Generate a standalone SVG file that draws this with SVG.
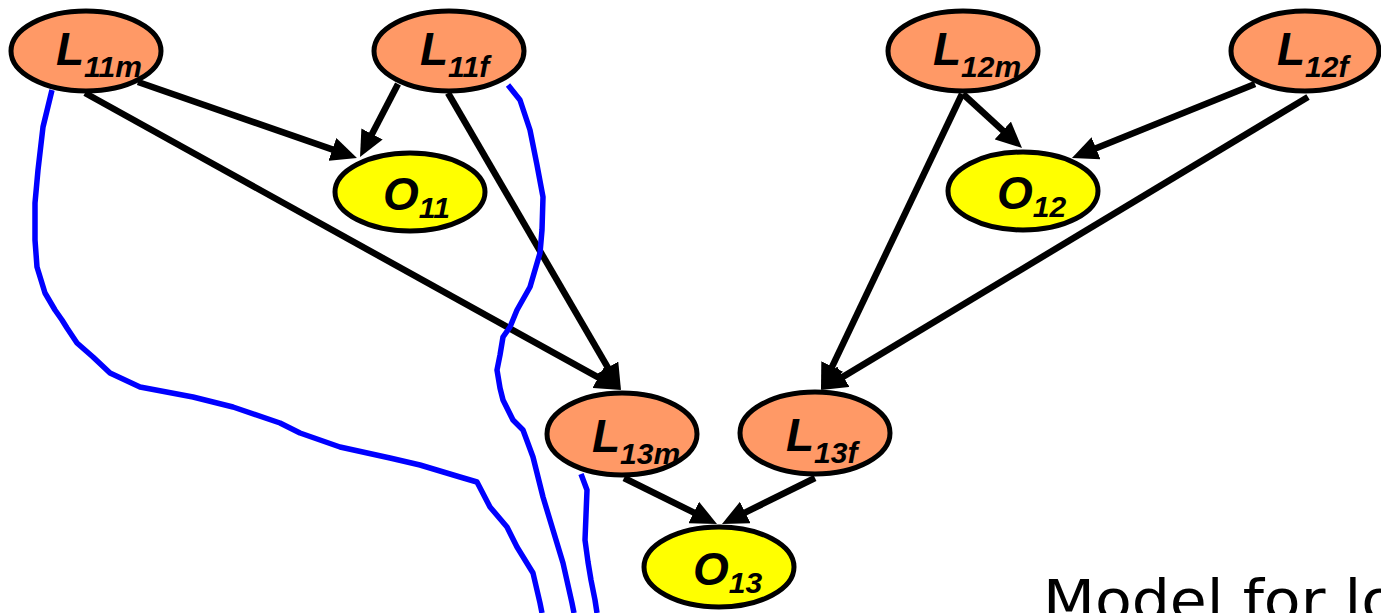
<svg xmlns="http://www.w3.org/2000/svg" width="1381" height="613" viewBox="0 0 1381 613">
  <style>
    .node ellipse { stroke: #000; stroke-width: 5; }
    .latent ellipse { fill: #FF9966; }
    .obs ellipse { fill: #FFFF00; }
    .lbl { font-family: "Liberation Sans", "DejaVu Sans", sans-serif; font-weight: bold; font-style: italic; font-size: 46px; fill: #000; }
    .sub { font-size: 30px; }
    .edge { stroke: #000; stroke-width: 6.5; fill: none; marker-end: url(#arrow); }
    .ink { stroke: #0000FF; stroke-width: 5.5; fill: none; stroke-linejoin: round; stroke-linecap: butt; }
    .caption { font-family: "DejaVu Sans", "Liberation Sans", sans-serif; font-size: 56px; fill: #000; }
  </style>
  <defs>
    <marker id="arrow" viewBox="0 0 26 24" refX="2" refY="12" markerWidth="26" markerHeight="24" markerUnits="userSpaceOnUse" orient="auto">
      <path d="M0,0 L26,12 L0,24 z" fill="#000"/>
    </marker>
  </defs>

  <rect width="1381" height="613" fill="#fff"/>

  <!-- directed edges (drawn to the arrowhead base) -->
  <g id="connectors">
    <line class="edge" x1="138" y1="82" x2="334.3" y2="150.1"/>
    <line class="edge" x1="85" y1="93" x2="600" y2="378.4"/>
    <line class="edge" x1="398" y1="84" x2="371.1" y2="135.7"/>
    <line class="edge" x1="448" y1="93" x2="608.9" y2="369.3"/>
    <line class="edge" x1="963" y1="94" x2="1004.3" y2="131.8"/>
    <line class="edge" x1="962" y1="94" x2="831.3" y2="368.3"/>
    <line class="edge" x1="1255" y1="84" x2="1094.2" y2="149"/>
    <line class="edge" x1="1308" y1="97" x2="841.6" y2="377.6"/>
    <line class="edge" x1="624" y1="478" x2="695.5" y2="513.4"/>
    <line class="edge" x1="815" y1="478" x2="743.5" y2="513.4"/>
  </g>

  <!-- nodes -->
  <g id="L11m" class="node latent">
    <ellipse cx="86" cy="51" rx="75" ry="40"/>
    <text class="lbl" x="56" y="65">L<tspan class="sub" dy="12">11m</tspan></text>
  </g>
  <g id="L11f" class="node latent">
    <ellipse cx="449" cy="51" rx="75" ry="40"/>
    <text class="lbl" x="420" y="65">L<tspan class="sub" dy="12">11f</tspan></text>
  </g>
  <g id="O11" class="node obs">
    <ellipse cx="410" cy="192" rx="75" ry="39"/>
    <text class="lbl" x="383" y="210">O<tspan class="sub" dy="8">11</tspan></text>
  </g>
  <g id="L12m" class="node latent">
    <ellipse cx="963" cy="51" rx="75" ry="40"/>
    <text class="lbl" x="933" y="65">L<tspan class="sub" dy="12">12m</tspan></text>
  </g>
  <g id="L12f" class="node latent">
    <ellipse cx="1305" cy="51" rx="74" ry="40"/>
    <text class="lbl" x="1277" y="65">L<tspan class="sub" dy="12">12f</tspan></text>
  </g>
  <g id="O12" class="node obs">
    <ellipse cx="1023" cy="191" rx="75" ry="39"/>
    <text class="lbl" x="997" y="209">O<tspan class="sub" dy="8">12</tspan></text>
  </g>
  <g id="L13m" class="node latent">
    <ellipse cx="622" cy="434" rx="75" ry="41"/>
    <text class="lbl" x="592" y="452">L<tspan class="sub" dy="12">13m</tspan></text>
  </g>
  <g id="L13f" class="node latent">
    <ellipse cx="815" cy="433" rx="75" ry="41"/>
    <text class="lbl" x="786" y="451">L<tspan class="sub" dy="12">13f</tspan></text>
  </g>
  <g id="O13" class="node obs">
    <ellipse cx="719" cy="567" rx="75" ry="40"/>
    <text class="lbl" x="693" y="585">O<tspan class="sub" dy="8">13</tspan></text>
  </g>

  <!-- freehand blue strokes -->
  <g id="ink">
    <path class="ink" d="M52,90 L43,127 L38,170 L35,203 L35,240 L37,267 L45,293 L55,310 L62,320 L67,328 L77,343 L93,357 L110,373 L140,387 L193,397 L233,407 L280,423 L300,433 L340,447 L390,458 L420,465 L460,477 L477,482 L490,507 L507,527 L517,547 L533,573 L540,603 L542,613"/>
    <path class="ink" d="M508,85 L520,100 L530,130 L537,165 L543,197 L542,230 L540,253 L530,287 L517,310 L510,327 L503,337 L500,355 L497,370 L500,388 L503,400 L513,420 L523,430 L533,457 L543,497 L553,530 L563,563 L572,603 L574,613"/>
    <path class="ink" d="M581,474 L587,490 L586,515 L585,540 L588,562 L591,580 L595,600 L597,613"/>
  </g>

  <text class="caption" x="1043" y="619" textLength="355" lengthAdjust="spacingAndGlyphs">Model for lo</text>
</svg>
